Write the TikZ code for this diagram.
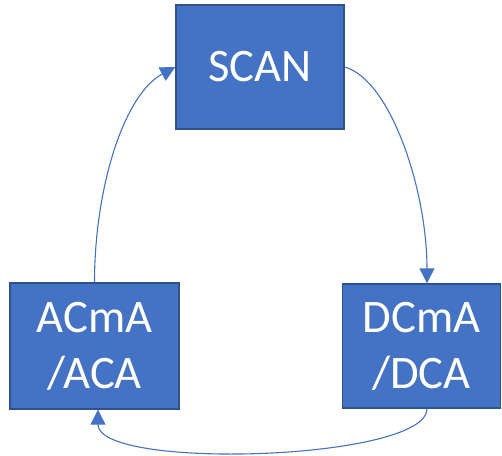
\documentclass[tikz,border=0pt]{standalone}
\usepackage{fontspec}
\setmainfont{Carlito}
\usetikzlibrary{arrows.meta}
\definecolor{boxblue}{HTML}{4472C4}
\definecolor{boxedge}{HTML}{2F528F}
\tikzset{
  block/.style={draw=boxedge, line width=1.4pt, fill=boxblue, text=white,
    inner sep=0pt, align=center,
    font=\fontsize{46.6}{56}\selectfont},
  flow/.style={draw=boxblue, line width=1.1pt,
    -{Triangle[length=15pt,width=15pt]}}
}
\begin{document}
\begin{tikzpicture}[x=1pt,y=-1pt]
  \useasboundingbox (0,0) rectangle (502,455);
  \node[block, minimum width=168pt, minimum height=124pt] (scan) at (260,67) {SCAN};
  \node[block, minimum width=169pt, minimum height=126pt] (acma) at (94.5,346) {ACmA\\/ACA};
  \node[block, minimum width=158pt, minimum height=124pt] (dcma) at (421.5,346) {DCmA\\/DCA};

  \coordinate (dtop) at ([xshift=5.5pt]dcma.north);
  \coordinate (dbot) at ([xshift=5.5pt]dcma.south);
  \coordinate (abot) at ([xshift=3.5pt]acma.south);

  \draw[flow] (scan.east) .. controls +(46,13) and +(0,-93) .. (dtop);
  \draw[flow] (dbot) .. controls +(0,52) and +(0,61) .. (abot);
  \draw[flow] (acma.north) .. controls +(0,-93) and +(-52,28) .. (scan.west);
\end{tikzpicture}
\end{document}
